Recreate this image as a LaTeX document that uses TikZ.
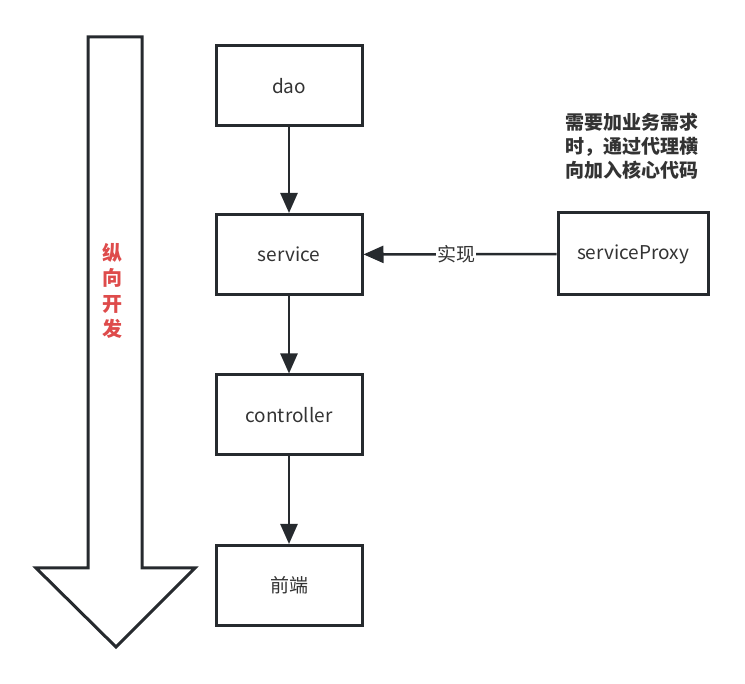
\documentclass[tikz,border=0pt]{standalone}
\usepackage{fontspec}
\setmainfont{Noto Sans CJK SC}
\usetikzlibrary{arrows.meta}
\definecolor{edge}{HTML}{262A2E}
\definecolor{ink}{HTML}{333333}
\definecolor{redtext}{HTML}{DE4B4B}
\tikzset{
  layer/.style = {draw = edge, line width = 3pt, minimum width = 146pt, minimum height = 80pt,
                  inner sep = 0pt, text = ink, font = \fontsize{19}{22}\selectfont},
  flow/.style = {draw = edge, line width = 2.5pt, -{Triangle[length = 20pt, width = 17pt]}}
}
\begin{document}
\begin{tikzpicture}[x = 1pt, y = -1pt]
		\useasboundingbox (0, 0) rectangle (745, 684);
		%%%%%%%%%%%%%
		\draw [edge, line width = 3pt, line join = miter]
		      (88, 37) -- (142, 37) -- (142, 568) -- (195, 568) -- (116, 647)
		      -- (36, 568) -- (88, 568) -- cycle;
		\node (vert) at (112, 291) [align = center, text = redtext,
		      font = \fontsize{20}{25.5}\selectfont\bfseries] {纵\\向\\开\\发};
		%%%%%%%%%%%%%
		\node [layer] (dao) at (289, 86) {dao};
		\node [layer] (service) at (289, 254.5) {service};
		\node [layer] (controller) at (289, 415) {controller};
		\node [layer] (front) at (289, 585.5) {前端};
		\node [layer, minimum width = 150pt, minimum height = 82pt] (proxy) at (633, 254) {serviceProxy};
		\node (note) at (632, 146) [align = center, text = ink,
		      font = \fontsize{19}{24}\selectfont\bfseries] {需要加业务需求\\时，通过代理横\\向加入核心代码};
		%%%%%%%%%%%%%
		\draw [flow] (dao) to (service); \draw [flow] (service) to (controller);
		\draw [flow] (controller) to (front);
		\draw [flow] (proxy) to node [fill = white, inner sep = 1pt, text = ink, pos = 0.52,
		      font = \fontsize{19}{22}\selectfont] {实现} (service);
\end{tikzpicture}
\end{document}
